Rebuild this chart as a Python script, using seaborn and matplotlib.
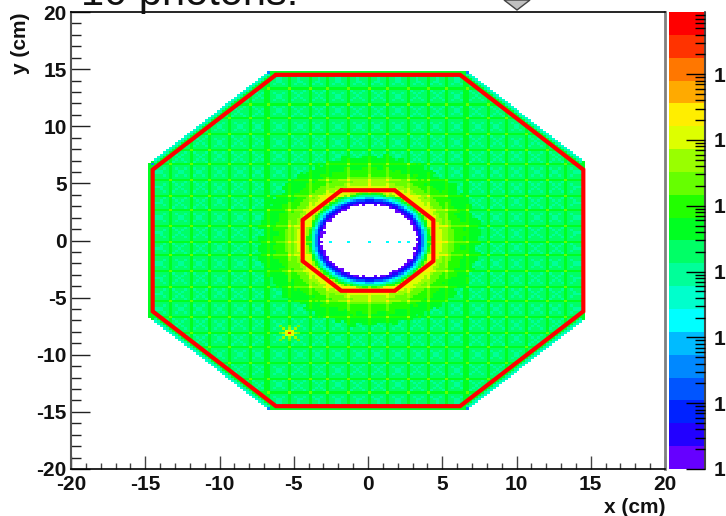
import numpy as np
import seaborn as sns
import matplotlib
matplotlib.use("Agg")
import matplotlib.pyplot as plt
from matplotlib.colors import ListedColormap, LogNorm
from matplotlib.patches import Polygon
from matplotlib.ticker import LogLocator, NullFormatter

# palette, bottom band first
band_colors = ["#6600FF", "#2200FF", "#0022FF", "#0055FF", "#0088FF",
               "#00BBFF", "#00FFFF", "#00FFCC", "#00FF99", "#00FF66",
               "#00FF22", "#22FF00", "#66FF00", "#99FF00", "#DDFF00",
               "#FFEE00", "#FFAA00", "#FF7700", "#FF3300", "#FF0000"]
decades = 6.945

# all in cm; levels are palette band numbers
grid_lines = [-13.33, -12.0, -10.67, -9.33, -8.0, -6.67, -5.33, -4.0, -2.67, -1.33,
              0.0, 1.33, 2.67, 4.0, 5.33, 6.67, 8.0, 9.33, 10.67, 12.0, 13.33]
thick_lines = [-6.67, 6.67]
ring_radii = [3.3, 3.42, 3.52, 3.6, 3.66, 3.72, 3.8, 3.88, 3.96, 4.04, 4.12, 4.22, 4.35, 4.9, 5.2, 5.7, 6.4, 7.4]
ring_levels = [0, 1, 2, 3, 4, 5, 6, 7, 8, 9, 10, 11, 13, 14, 13, 12, 11, 10, 9]
edge_angle_radii = [3.2, 3.26, 3.14, 3.22, 3.1, 3.18, 3.24, 3.12, 3.2, 3.08, 3.16, 3.22,
                    3.1, 3.18, 3.06, 3.14, 3.2, 3.1, 3.16, 3.06, 3.12, 3.2, 3.08, 3.16,
                    3.22, 3.1, 3.2, 3.12, 3.24, 3.14, 3.08, 3.18, 3.1, 3.22, 3.12, 3.04,
                    3.16, 3.08, 3.14, 3.06, 3.18, 3.1, 3.04, 3.14, 3.08, 3.2, 3.12, 3.24]
glow_angle_shift = [0.15, -0.1, 0.05, -0.2, 0.1, 0.2, -0.15, 0.05, -0.05, 0.15, -0.2, 0.1,
                    0.0, 0.2, -0.1, 0.15, -0.15, 0.05, 0.2, -0.05, 0.1, -0.2, 0.15, 0.0,
                    -0.1, 0.2, 0.05, -0.15, 0.1, -0.05, 0.2, -0.2, 0.05, 0.15, -0.1, 0.0,
                    0.1, -0.15, 0.2, 0.05, -0.2, 0.15, -0.05, 0.1, 0.0, -0.15, 0.2, -0.1]
hole_dots_x = [-2.6, -1.33, 0.0, 1.33, 2.0, 2.67]
edge_depth = [0.12, 0.24, 0.52]
edge_levels = [7, 8, 10]
corner_x = [-6.7, 6.7, -14.6, 6.7, -6.7]
corner_y = [14.7, 14.7, 6.8, -14.7, -14.7]
star_x, star_y = -5.33, -8.0
star_levels = [18, 14, 13, 12]

outer_x = [-6.2, 6.2, 14.5, 14.5, 6.2, -6.2, -14.5, -14.5]
outer_y = [14.5, 14.5, 6.2, -6.2, -14.5, -14.5, -6.2, 6.2]
inner_x = [-1.8, 1.8, 4.4, 4.4, 1.8, -1.8, -4.4, -4.4]
inner_y = [4.4, 4.4, 1.8, -1.8, -4.4, -4.4, -1.8, 1.8]

major_ticks = [-20, -15, -10, -5, 0, 5, 10, 15, 20]
minor_ticks = list(range(-20, 21))
cbar_major = [1e0, 1e1, 1e2, 1e3, 1e4, 1e5, 1e6]
cbar_labels = ["1"] * 7


def col(x):
    return (np.asarray(x, dtype=float) + 20) * 5


def row(y):
    return (20 - np.asarray(y, dtype=float)) * 5


def build_levels():
    n = 200
    xs = -20 + 0.2 * (np.arange(n) + 0.5)
    ys = 20 - 0.2 * (np.arange(n) + 0.5)
    X, Y = np.meshgrid(xs, ys)

    line_cols = np.floor(col(grid_lines)).astype(int)
    line_rows = np.floor(row(grid_lines)).astype(int)
    on_col = np.isin(np.arange(n), line_cols)[None, :]
    on_row = np.isin(np.arange(n), line_rows)[:, None]
    dx = np.abs(np.subtract.outer(xs, grid_lines)).min(axis=1)[None, :]
    dy = np.abs(np.subtract.outer(ys, grid_lines)).min(axis=1)[:, None]

    # crystal tiles: flat face, paler X across it, lines between them
    lev = np.full((n, n), 9.0)
    lev[(np.abs(dx - dy) < 0.1) & (dx > 0.2) & (dy > 0.2)] = 8
    lev[(dx > 0.56) & (dy > 0.56)] = 8

    # glow and hole around the beam pipe, hole rim and glow rim are uneven
    R = np.hypot(X - 0.1, Y)
    sector = (((np.degrees(np.arctan2(Y, X - 0.1)) + 360) % 360) / 3.75).astype(int) % 48
    edge = np.array(edge_angle_radii)[sector]
    shift = np.array(glow_angle_shift)[sector]
    ring_r = np.where(R > 6.0, R + shift, R)
    ring = np.array(ring_levels)[np.searchsorted(ring_radii, ring_r)]
    inside = ring_r < 7.4
    lev[inside] = ring[inside]

    on_line = (on_col | on_row) & (R > 4.0)
    lev[on_line] = np.maximum(lev[on_line] + 1, 10)
    cross = (on_col & on_row) & (R > 4.0)
    lev[cross] = np.where(R[cross] > 7.4, 12, np.minimum(lev[cross] + 2, 15))
    for x in thick_lines:
        c = int(col(x))
        lev[:, c - 1:c + 1] = np.maximum(lev[:, c - 1:c + 1], 10)

    # outer octagon and its paler rim
    depth_side = np.minimum(14.7 - np.abs(X), 14.8 - np.abs(Y))
    depth_diag = (21.5 - np.abs(X) - np.abs(Y)) / np.sqrt(2)
    for d, l in zip(edge_depth[::-1], edge_levels[::-1]):
        lev[depth_diag < d] = l
    lev[depth_side < 0.2] = 10

    # hot channel
    r0, c0 = int(row(star_y)), int(col(star_x))
    for i, l in enumerate(star_levels):
        for a, b in [(0, 1), (1, 0), (1, 1), (1, -1)]:
            lev[r0 + a * i, c0 + b * i] = l
            lev[r0 - a * i, c0 - b * i] = l

    lev[(depth_side < 0) | (depth_diag < 0)] = np.nan
    for x, y in zip(corner_x, corner_y):
        lev[int(row(y)), int(col(x))] = 4
    lev[R < edge] = np.nan
    r_mid = int(row(0))
    for x in hole_dots_x:
        lev[r_mid, int(col(x))] = 6
    return lev


levels = build_levels()
values = 10 ** ((levels + 0.5) * decades / 20)

sns.set_theme(style="white")
plt.rcParams["font.family"] = ["Liberation Sans", "DejaVu Sans"]
plt.rcParams["font.weight"] = "bold"

W, H = 726, 516
fig = plt.figure(figsize=(W / 100, H / 100), dpi=100)
ax = fig.add_axes([71 / W, 1 - 469 / H, 594 / W, 457 / H])
cax = fig.add_axes([669 / W, 1 - 469 / H, 36 / W, 457 / H])

sns.heatmap(values, ax=ax, cbar_ax=cax, cmap=ListedColormap(band_colors),
            norm=LogNorm(1, 10 ** decades), xticklabels=False, yticklabels=False)

ax.plot(col(outer_x + outer_x[:1]), row(outer_y + outer_y[:1]), color="#FF0000", lw=3, solid_joinstyle="miter")
ax.plot(col(inner_x + inner_x[:1]), row(inner_y + inner_y[:1]), color="#FF0000", lw=3, solid_joinstyle="miter")

ax.set_xticks(col(major_ticks))
ax.set_xticklabels([str(v) for v in major_ticks], fontsize=15, fontweight="bold")
ax.set_xticks(col(minor_ticks), minor=True)
ax.set_yticks(row(major_ticks))
ax.set_yticklabels([str(v) for v in major_ticks], fontsize=15, fontweight="bold", rotation=0)
ax.set_yticks(row(minor_ticks), minor=True)
ax.tick_params(axis="x", which="major", direction="in", length=9.5, width=1, color="#444444", bottom=True, pad=4)
ax.tick_params(axis="x", which="minor", direction="in", length=4.5, width=1, color="#444444", bottom=True)
ax.tick_params(axis="y", which="major", direction="in", length=13.5, width=1, color="#222222", left=True, pad=3)
ax.tick_params(axis="y", which="minor", direction="in", length=7, width=1, color="#222222", left=True)
ax.tick_params(labelcolor="#111111", which="both")

for side in ["left", "top", "bottom", "right"]:
    ax.spines[side].set_visible(True)
ax.spines["top"].set_color("black")
ax.spines["top"].set_linewidth(1.2)
ax.spines["bottom"].set_color("black")
ax.spines["bottom"].set_linewidth(1.2)
ax.spines["left"].set_color("#555555")
ax.spines["left"].set_linewidth(1.5)
ax.spines["right"].set_color("#808080")
ax.spines["right"].set_linewidth(2)

ax.set_xlabel("x (cm)", fontsize=15, fontweight="bold", loc="right", labelpad=3, color="#111111")
ax.set_ylabel("y (cm)", fontsize=15, fontweight="bold", loc="top", color="#111111")
ax.yaxis.set_label_coords(-41 / 594, 1.0)

cbar = ax.collections[0].colorbar
cbar.outline.set_visible(False)
cax.set_axisbelow(False)
cax.set_yticks(cbar_major)
cax.set_yticklabels(cbar_labels, fontsize=15, fontweight="bold", color="#111111")
cax.yaxis.set_minor_locator(LogLocator(base=10, subs=range(2, 10), numticks=12))
cax.yaxis.set_minor_formatter(NullFormatter())
cax.tick_params(axis="y", which="major", direction="in", length=14, width=1, color="black", right=True, pad=6.5)
cax.tick_params(axis="y", which="minor", direction="in", length=7, width=1, color="black", right=True)
cax.axvline(cax.get_xlim()[1], color="#444444", lw=1.5, clip_on=False)

fig.text(81 / W, 1 - 5 / H, "10 photons:", fontsize=30, fontweight="normal", color="#111111", va="baseline")
fig.add_artist(Polygon([(504 / W, 1.0), (530 / W, 1.0), (517 / W, 1 - 10 / H)], closed=True,
                       facecolor="#C0C0C0", edgecolor="#444444", lw=1, transform=fig.transFigure))

fig.savefig("out.png", dpi=100)
